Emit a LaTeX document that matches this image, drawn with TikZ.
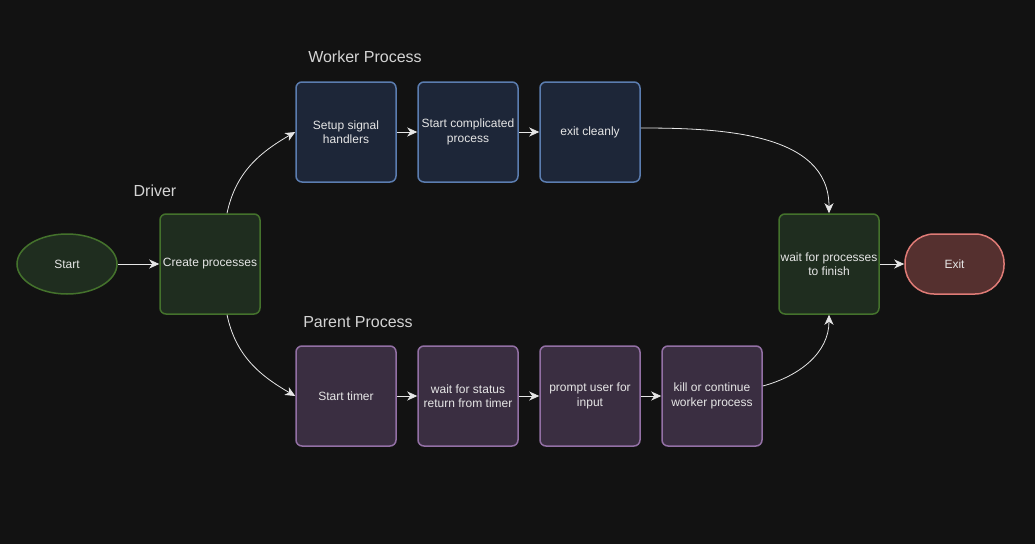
\documentclass[tikz,border=0pt]{standalone}
\usepackage{fontspec}
\setmainfont{Liberation Sans}
\usetikzlibrary{shapes,arrows.meta,positioning}
\usepackage{xcolor}
\definecolor{bgdark}{HTML}{121212}
\definecolor{lighttext}{HTML}{E6E6E6}
\definecolor{titletext}{HTML}{D4D4D4}
\definecolor{drivefill}{HTML}{1F2D1F}
\definecolor{driveline}{HTML}{44722C}
\definecolor{workfill}{HTML}{1D2638}
\definecolor{workline}{HTML}{5B7DB0}
\definecolor{parentfill}{HTML}{3A2E41}
\definecolor{parentline}{HTML}{9370A5}
\definecolor{exitfill}{HTML}{55302F}
\definecolor{exitline}{HTML}{DF7B76}

\begin{document}
\begin{tikzpicture}[x=1pt, y=1pt,
    box/.style={rectangle, draw, line width=1.5pt, minimum width=100pt, minimum height=100pt, rounded corners=6pt, align=center, text=lighttext, inner sep=1pt, font=\fontsize{12}{14.5}\selectfont},
    drivebox/.style={box, draw=driveline, fill=drivefill},
    workbox/.style={box, draw=workline, fill=workfill},
    parentbox/.style={box, draw=parentline, fill=parentfill},
    title/.style={text=titletext, font=\fontsize{16}{19}\selectfont},
    flow/.style={draw=lighttext, line width=0.8pt, -{Stealth[length=10pt,width=9pt,inset=3pt]}}]
    \fill[bgdark] (0,0) rectangle (1035,-544);
    \useasboundingbox (0,0) rectangle (1035,-544);
    % driver
    \node [ellipse, draw=driveline, fill=drivefill, line width=1.5pt, minimum width=100pt, minimum height=60pt, inner sep=0pt, text=lighttext, font=\fontsize{12}{14.5}\selectfont] (start) at (67,-264) {Start};
    \node [drivebox, right=41.5pt of start] (create) {Create processes};
    \node [title] (driver) at (155,-191) {Driver};
    % worker process
    \node [title] (worker) at (365,-57) {Worker Process};
    \node [workbox] (setup) at (346,-132) {Setup signal\\handlers};
    \node [workbox, right=20.5pt of setup] (complicated) {Start complicated\\process};
    \node [workbox, right=20.5pt of complicated] (cleanly) {exit cleanly};
    % parent process
    \node [title] (parent) at (358,-322) {Parent Process};
    \node [parentbox] (timer) at (346,-396) {Start timer};
    \node [parentbox, right=20.5pt of timer] (status) {wait for status\\return from timer};
    \node [parentbox, right=20.5pt of status] (prompt) {prompt user for\\input};
    \node [parentbox, right=20.5pt of prompt] (kill) {kill or continue\\worker process};
    % finish
    \node [drivebox] (wait) at (829,-264) {wait for processes\\to finish};
    \node [rectangle, draw=exitline, fill=exitfill, line width=1.5pt, minimum width=99pt, minimum height=60pt, rounded corners=29pt, text=lighttext, font=\fontsize{12}{14.5}\selectfont, right=24.5pt of wait] (exit) {Exit};
    \draw[flow] (start) -- (create);
    \draw[flow] ([xshift=17pt]create.north) to[out=78,in=210] (setup.west);
    \draw[flow] ([xshift=17pt]create.south) to[out=-78,in=150] (timer.west);
    \draw[flow] (setup) -- (complicated);
    \draw[flow] (complicated) -- (cleanly);
    \draw[flow] (timer) -- (status);
    \draw[flow] (status) -- (prompt);
    \draw[flow] (prompt) -- (kill);
    \draw[flow] ([yshift=4pt]cleanly.east) to[out=0,in=90] (wait.north);
    \draw[flow] ([yshift=10pt]kill.east) to[out=15,in=-90] (wait.south);
    \draw[flow] (wait) -- (exit);
\end{tikzpicture}
\end{document}
